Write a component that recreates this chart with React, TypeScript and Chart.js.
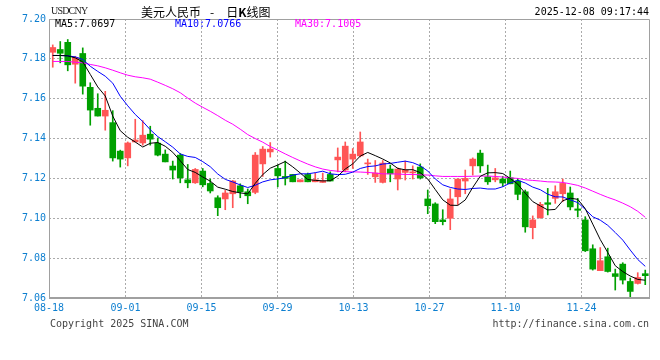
import React, { useEffect, useRef } from "react";
import { Chart, registerables } from "chart.js";

Chart.register(...registerables);

// ---- data ----
const openPrices = [
  7.1833, 7.1847, 7.1883, 7.1773, 7.1827, 7.1657, 7.1552, 7.1513, 7.148, 7.1337,
  7.1303, 7.1383, 7.1378, 7.1422, 7.1377, 7.1322, 7.1262, 7.1317, 7.1193, 7.1178,
  7.1237, 7.1175, 7.1103, 7.1097, 7.1123, 7.1163, 7.1133, 7.113, 7.1273, 7.1333,
  7.125, 7.121, 7.122, 7.1183, 7.122, 7.1183, 7.118, 7.122, 7.1293, 7.1242,
  7.1297, 7.1313, 7.1273, 7.1208, 7.118, 7.1247, 7.1197, 7.123, 7.1228, 7.1257,
  7.1097, 7.1072, 7.0992, 7.1, 7.1108, 7.1187, 7.1263, 7.1327, 7.1208, 7.1193,
  7.1197, 7.1203, 7.1187, 7.1133, 7.0953, 7.1003, 7.1078, 7.11, 7.1123, 7.1127,
  7.1047, 7.0992, 7.0847, 7.0737, 7.0807, 7.0722, 7.077, 7.0683, 7.0673, 7.0722,
];
const closePrices = [
  7.1857, 7.1828, 7.177, 7.1807, 7.1663, 7.1543, 7.1513, 7.1542, 7.1303, 7.1297,
  7.1378, 7.1393, 7.1417, 7.1397, 7.1317, 7.1283, 7.1242, 7.1203, 7.1178, 7.1245,
  7.1168, 7.1137, 7.1053, 7.1127, 7.1187, 7.1133, 7.1113, 7.1317, 7.1347, 7.1347,
  7.1213, 7.12, 7.1183, 7.1193, 7.1183, 7.1193, 7.1187, 7.1187, 7.1307, 7.1362,
  7.1322, 7.1383, 7.1278, 7.1227, 7.1277, 7.1223, 7.1247, 7.1242, 7.1231, 7.1203,
  7.1063, 7.0983, 7.0983, 7.1097, 7.1197, 7.12, 7.1297, 7.1263, 7.1183, 7.1203,
  7.1177, 7.1173, 7.112, 7.0957, 7.0992, 7.107, 7.107, 7.1133, 7.1175, 7.1057,
  7.104, 7.0837, 7.0745, 7.0787, 7.0733, 7.0708, 7.069, 7.0633, 7.0703, 7.0712,
];
const highPrices = [
  7.187, 7.1887, 7.1897, 7.1813, 7.1855, 7.168, 7.1625, 7.1637, 7.154, 7.1342,
  7.1383, 7.1497, 7.149, 7.1462, 7.1403, 7.1343, 7.1287, 7.1325, 7.127, 7.125,
  7.125, 7.1197, 7.1113, 7.114, 7.119, 7.1173, 7.1147, 7.133, 7.136, 7.138,
  7.1267, 7.1287, 7.122, 7.1193, 7.1227, 7.1227, 7.1227, 7.1233, 7.1353, 7.1383,
  7.135, 7.1433, 7.1297, 7.129, 7.129, 7.1267, 7.1253, 7.1287, 7.1263, 7.1273,
  7.1142, 7.1078, 7.1043, 7.1147, 7.1197, 7.1242, 7.1303, 7.1342, 7.1267, 7.125,
  7.121, 7.1237, 7.12, 7.1142, 7.1012, 7.108, 7.115, 7.1163, 7.1197, 7.1157,
  7.11, 7.1008, 7.0867, 7.0853, 7.085, 7.0745, 7.0777, 7.07, 7.0727, 7.074,
];
const lowPrices = [
  7.1758, 7.178, 7.174, 7.1678, 7.1623, 7.1467, 7.1513, 7.1442, 7.1287, 7.1257,
  7.1263, 7.1383, 7.1367, 7.1367, 7.1313, 7.1283, 7.1197, 7.1178, 7.1153, 7.1175,
  7.1158, 7.1127, 7.1013, 7.1043, 7.1053, 7.1103, 7.1073, 7.1123, 7.121, 7.1307,
  7.1158, 7.1167, 7.1183, 7.1183, 7.1183, 7.1183, 7.118, 7.1187, 7.1233, 7.1233,
  7.125, 7.1308, 7.122, 7.118, 7.1177, 7.1183, 7.1142, 7.1192, 7.1197, 7.1197,
  7.1023, 7.0973, 7.0967, 7.0943, 7.1067, 7.1123, 7.1217, 7.123, 7.117, 7.1183,
  7.116, 7.1173, 7.1093, 7.093, 7.0897, 7.1, 7.1017, 7.1075, 7.1083, 7.1042,
  7.1007, 7.0833, 7.074, 7.0737, 7.073, 7.064, 7.067, 7.06, 7.067, 7.0667,
];
// leading moving-average values (the window reaches before the first candle)
const ma5Head = [7.1817, 7.1817, 7.1815, 7.1805];
const ma10Head = [7.1817, 7.1817, 7.1815, 7.181, 7.1797, 7.1763, 7.1737, 7.1713, 7.1678];
const ma30Values = [
  7.1787, 7.1787, 7.1787, 7.1783, 7.178, 7.1772, 7.1765, 7.1755, 7.1743, 7.173,
  7.1718, 7.171, 7.1705, 7.1698, 7.1683, 7.1667, 7.165, 7.163, 7.1603, 7.1578,
  7.1557, 7.1537, 7.1515, 7.1492, 7.1472, 7.1447, 7.142, 7.14, 7.1382, 7.136,
  7.1342, 7.1323, 7.1305, 7.1288, 7.1272, 7.1258, 7.1247, 7.124, 7.1236, 7.1234,
  7.1233, 7.1232, 7.123, 7.1227, 7.1223, 7.1223, 7.1222, 7.122, 7.122, 7.1218,
  7.1217, 7.1213, 7.121, 7.121, 7.121, 7.121, 7.1211, 7.1212, 7.1212, 7.121,
  7.1207, 7.1203, 7.12, 7.1193, 7.119, 7.1187, 7.1183, 7.1182, 7.118, 7.1173,
  7.1165, 7.1152, 7.1136, 7.112, 7.1105, 7.1092, 7.1076, 7.1058, 7.1035, 7.1005,
];
const dateLabels = ["08-18", "09-01", "09-15", "09-29", "10-13", "10-27", "11-10", "11-24"];
const dateTickPositions = [-0.5, 9.7, 19.835, 29.97, 40.1, 50.24, 60.37, 70.5];
const priceTicks = [7.06, 7.08, 7.1, 7.12, 7.14, 7.16, 7.18, 7.2];
const legendTexts = ["MA5:7.0697", "MA10:7.0766", "MA30:7.1005"];

const UP = "#ff5555";
const DOWN = "#00a000";
const AXIS_BLUE = "#0d7fd0";
const MONO = "'DejaVu Sans Mono', monospace";

function movingAverage(values: number[], n: number, head: number[]) {
  return values.map((_, i) => {
    if (i < n - 1) return head[i];
    let s = 0;
    for (let k = i - n + 1; k <= i; k++) s += values[k];
    return s / n;
  });
}

const framePlugin = {
  id: "frame",
  afterDatasetsDraw(chart: any) {
    const { ctx, chartArea } = chart;
    const { left, right, top, bottom } = chartArea;
    ctx.save();
    ctx.strokeStyle = "#a0a0a0";
    ctx.lineWidth = 1;
    ctx.beginPath();
    ctx.moveTo(Math.round(left) + 0.5, Math.round(bottom));
    ctx.lineTo(Math.round(left) + 0.5, Math.round(top) + 0.5);
    ctx.lineTo(Math.round(right) + 0.5, Math.round(top) + 0.5);
    ctx.lineTo(Math.round(right) + 0.5, Math.round(bottom));
    ctx.stroke();
    ctx.lineWidth = 2;
    ctx.beginPath();
    ctx.moveTo(Math.round(left), Math.round(bottom));
    ctx.lineTo(Math.round(right) + 1, Math.round(bottom));
    ctx.stroke();
    ctx.restore();
  },
};

export default function App() {
  const canvasRef = useRef<HTMLCanvasElement | null>(null);

  useEffect(() => {
    if (!canvasRef.current) return;
    const idx = closePrices.map((_, i) => i);
    const isUp = (i: number) => closePrices[i] >= openPrices[i];
    const colorOf = (i: number) => (isUp(i) ? UP : DOWN);
    const ma5 = movingAverage(closePrices, 5, ma5Head);
    const ma10 = movingAverage(closePrices, 10, ma10Head);

    const chart = new Chart(canvasRef.current, {
      type: "bar",
      data: {
        datasets: [
          {
            type: "line",
            label: "MA5",
            data: idx.map((i) => ({ x: i, y: ma5[i] })),
            borderColor: "#000000",
            borderWidth: 1,
            pointRadius: 0,
            tension: 0,
            order: 0,
          } as any,
          {
            type: "line",
            label: "MA10",
            data: idx.map((i) => ({ x: i, y: ma10[i] })),
            borderColor: "#0000ff",
            borderWidth: 1,
            pointRadius: 0,
            tension: 0,
            order: 0,
          } as any,
          {
            type: "line",
            label: "MA30",
            data: idx.map((i) => ({ x: i, y: ma30Values[i] })),
            borderColor: "#ff00ff",
            borderWidth: 1,
            pointRadius: 0,
            tension: 0,
            order: 0,
          } as any,
          {
            type: "bar",
            label: "body",
            data: idx.map((i) => ({ x: i, y: [openPrices[i], closePrices[i]] })),
            backgroundColor: idx.map(colorOf),
            borderWidth: 0,
            barThickness: 6,
            minBarLength: 1,
            grouped: false,
            order: 1,
          } as any,
          {
            type: "bar",
            label: "wick",
            data: idx.map((i) => ({ x: i, y: [lowPrices[i], highPrices[i]] })),
            backgroundColor: idx.map(colorOf),
            borderWidth: 0,
            barThickness: 1,
            grouped: false,
            order: 2,
          } as any,
        ],
      },
      options: {
        animation: false,
        responsive: false,
        devicePixelRatio: 1,
        layout: { padding: { left: 0, right: 11, top: 19, bottom: 0 } },
        plugins: { legend: { display: false }, tooltip: { enabled: false } },
        scales: {
          x: {
            type: "linear",
            min: -0.5,
            max: 79.5,
            offset: false,
            bounds: "data",
            afterBuildTicks: (scale: any) => {
              scale.ticks = dateTickPositions.map((v) => ({ value: v }));
            },
            afterFit: (scale: any) => {
              scale.height = 62;
            },
            grid: { color: "#aaaaaa", lineWidth: 1, drawTicks: false, offset: false },
            border: { display: false, dash: [2, 2] },
            ticks: {
              autoSkip: false,
              maxRotation: 0,
              padding: 4,
              color: AXIS_BLUE,
              font: { family: MONO, size: 10 },
              callback: (_v: any, i: number) => dateLabels[i],
            },
          },
          y: {
            type: "linear",
            min: 7.06,
            max: 7.2,
            bounds: "data",
            afterBuildTicks: (scale: any) => {
              scale.ticks = priceTicks.map((v) => ({ value: v }));
            },
            afterFit: (scale: any) => {
              scale.width = 49;
            },
            grid: { color: "#aaaaaa", lineWidth: 1, drawTicks: false },
            border: { display: false, dash: [2, 2] },
            ticks: {
              padding: 3,
              color: AXIS_BLUE,
              font: { family: MONO, size: 10 },
              callback: (v: any) => Number(v).toFixed(2),
            },
          },
        },
      },
      plugins: [framePlugin],
    });
    return () => chart.destroy();
  }, []);

  const abs = (extra: React.CSSProperties): React.CSSProperties => ({
    position: "absolute",
    whiteSpace: "nowrap",
    margin: 0,
    ...extra,
  });

  return (
    <div style={{ position: "absolute", left: 0, top: 0, width: 660, height: 360, background: "#fff" }}>
      <canvas ref={canvasRef} width={660} height={360} style={{ display: "block", width: 660, height: 360 }} />
      <div style={abs({ left: 51, top: 5, fontFamily: "'Liberation Serif', serif", fontSize: 10, lineHeight: "12px", letterSpacing: "-0.8px", color: "#222" })}>
        USDCNY
      </div>
      <div style={abs({ left: 141, top: 4, fontFamily: "'Noto Sans CJK SC', sans-serif", fontSize: 12, lineHeight: "15px", color: "#000" })}>
        <span>美元人民币</span>
        <span style={{ margin: "0 12px 0 9px" }}>-</span>
        <span>日<b>K</b>线图</span>
      </div>
      <div style={abs({ right: 11, top: 6, fontFamily: MONO, fontSize: 10, lineHeight: "12px", color: "#000" })}>
        2025-12-08 09:17:44
      </div>
      <div style={abs({ left: 55, top: 18, fontFamily: MONO, fontSize: 10, lineHeight: "12px", color: "#000" })}>
        {legendTexts[0]}
      </div>
      <div style={abs({ left: 175, top: 18, fontFamily: MONO, fontSize: 10, lineHeight: "12px", color: "#0000ff" })}>
        {legendTexts[1]}
      </div>
      <div style={abs({ left: 295, top: 18, fontFamily: MONO, fontSize: 10, lineHeight: "12px", color: "#ff00ff" })}>
        {legendTexts[2]}
      </div>
      <div style={abs({ left: 50, top: 318, fontFamily: MONO, fontSize: 10, lineHeight: "12px", color: "#444" })}>
        Copyright 2025 SINA.COM
      </div>
      <div style={abs({ right: 11, top: 318, fontFamily: MONO, fontSize: 10, lineHeight: "12px", color: "#444" })}>
        http://finance.sina.com.cn
      </div>
    </div>
  );
}
